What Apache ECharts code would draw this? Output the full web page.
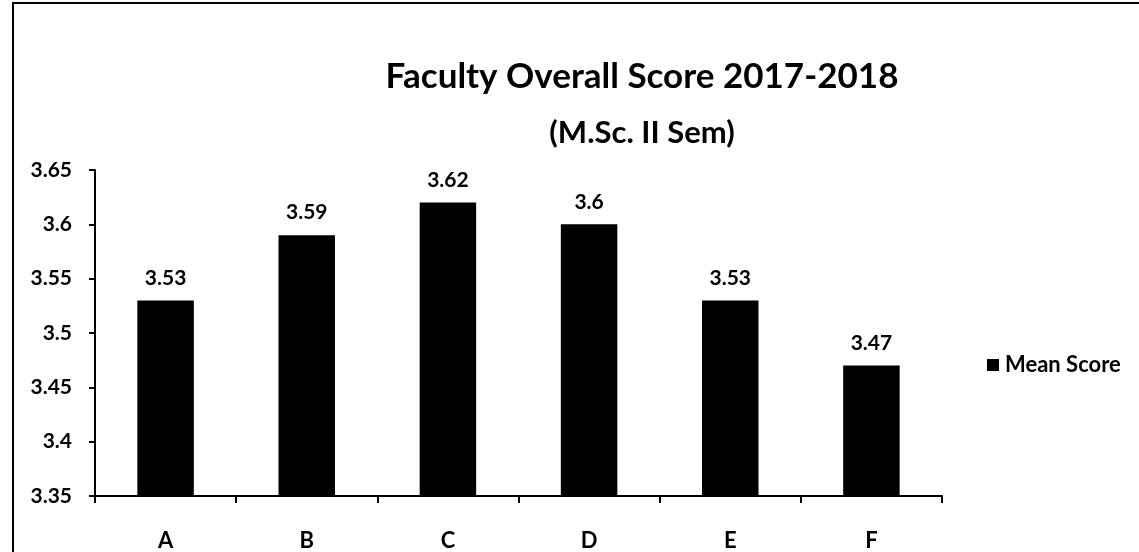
<!DOCTYPE html>
<html>
<head>
<meta charset="utf-8">
<script src="https://cdn.jsdelivr.net/npm/echarts@6/dist/echarts.min.js"></script>
<style>
  html, body { margin: 0; padding: 0; background: #fff; }
  #chart { width: 1139px; height: 552px; }
</style>
</head>
<body>
<div id="chart"></div>
<script>
// chart data
const categories = ['A', 'B', 'C', 'D', 'E', 'F'];
const meanScore = [3.53, 3.59, 3.62, 3.6, 3.53, 3.47];
const seriesName = 'Mean Score';
const yMin = 3.35;
const yMax = 3.65;
const yStep = 0.05;

const font = 'Lato, "Open Sans", sans-serif';

const chart = echarts.init(document.getElementById('chart'));

const option = {
    backgroundColor: '#fff',
    textStyle: { fontFamily: font, color: '#000' },
    title: {
        text: 'Faculty Overall Score 2017-2018',
        subtext: '(M.Sc. II Sem)',
        left: 637,
        textAlign: 'center',
        top: 52,
        itemGap: 18,
        textStyle: { fontFamily: font, fontSize: 35, lineHeight: 40, fontWeight: 'bold', color: '#000' },
        subtextStyle: { fontFamily: font, fontSize: 31, lineHeight: 36, fontWeight: 'bold', color: '#000' }
    },
    legend: {
        data: [seriesName],
        orient: 'vertical',
        left: 982,
        top: 349,
        itemWidth: 12,
        itemHeight: 12,
        itemGap: 4,
        icon: 'rect',
        textStyle: { fontFamily: font, fontSize: 22, fontWeight: 'bold', color: '#000', padding: [0, 0, 0, 1] }
    },
    grid: {
        left: 95,
        right: 197,
        top: 170,
        bottom: 52,
        containLabel: false
    },
    xAxis: {
        type: 'category',
        data: categories,
        axisLine: { lineStyle: { color: '#000', width: 2 } },
        axisTick: { show: true, length: 7, alignWithLabel: false, lineStyle: { color: '#000', width: 2 } },
        axisLabel: { margin: 34, fontFamily: font, fontSize: 22, fontWeight: 'bold', color: '#000' }
    },
    yAxis: {
        type: 'value',
        min: yMin,
        max: yMax,
        interval: yStep,
        splitLine: { show: false },
        axisLine: { show: true, lineStyle: { color: '#000', width: 2 } },
        axisTick: { show: true, length: 6, lineStyle: { color: '#000', width: 2 } },
        axisLabel: {
            margin: 23,
            fontFamily: font,
            fontSize: 21,
            fontWeight: 'bold',
            color: '#000',
            formatter: v => String(Math.round(v * 100) / 100)
        }
    },
    series: [
        {
            name: seriesName,
            type: 'bar',
            data: meanScore,
            barWidth: '40%',
            itemStyle: { color: '#000' },
            label: {
                show: true,
                position: 'top',
                distance: 12,
                fontFamily: font,
                fontSize: 21,
                fontWeight: 'bold',
                color: '#000'
            }
        }
    ],
    graphic: [
        {
            type: 'rect',
            shape: { x: 13, y: 3, width: 1200, height: 600 },
            style: { fill: 'none', stroke: '#000', lineWidth: 2 },
            silent: true
        }
    ]
};

chart.setOption(option);
</script>
</body>
</html>
